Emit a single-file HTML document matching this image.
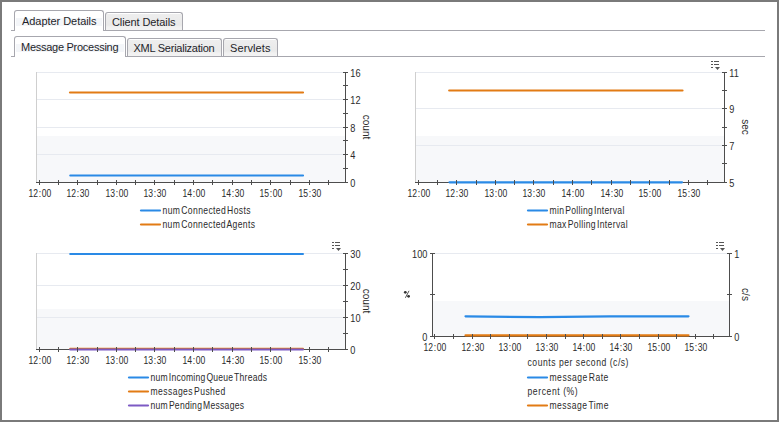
<!DOCTYPE html><html><head><meta charset="utf-8"><style>
html,body{margin:0;padding:0;}
body{width:779px;height:422px;position:relative;overflow:hidden;background:#fff;font-family:"Liberation Sans",sans-serif;}
.frame{position:absolute;left:0;top:0;width:779px;height:422px;box-sizing:border-box;border:2px solid #7a7a7a;}
.line{position:absolute;height:1px;background:#a7a7ae;}
.tab{position:absolute;box-sizing:border-box;border:1px solid #a7a7ae;border-bottom:none;border-radius:3px 3px 0 0;font-size:11px;color:#1f1f2a;white-space:nowrap;}
.tab.act{background:#fff;}
.tab.act .band{position:absolute;left:1px;right:1px;top:7px;height:8px;background:#f4f6f9;}
.tab.ina{background:linear-gradient(#ffffff 0,#ffffff 1px,#eeeeee 1px,#e9e9e9 12px,#f1f1f1 14px,#f3f3f3 100%);}
.tab span{position:absolute;}
svg{position:absolute;left:0;top:0;}
svg text{font-family:"Liberation Sans",sans-serif;}
</style></head><body>
<div class="frame"></div>
<div class="line" style="left:11px;top:30px;width:754px"></div>
<div class="line" style="left:11px;top:56px;width:754px"></div>
<div class="tab act" style="left:14px;top:10px;width:90px;height:21px"><div class="band"></div><span style="left:7px;top:4px;letter-spacing:-0.05px">Adapter Details</span></div>
<div class="tab ina" style="left:105px;top:12px;width:78px;height:18px"><span style="left:6px;top:3px;letter-spacing:-0.1px">Client Details</span></div>
<div class="tab act" style="left:14px;top:36px;width:112px;height:21px"><div class="band"></div><span style="left:6px;top:4px;letter-spacing:-0.27px">Message Processing</span></div>
<div class="tab ina" style="left:127px;top:38px;width:95px;height:18px"><span style="left:5.5px;top:3px;letter-spacing:-0.25px">XML Serialization</span></div>
<div class="tab ina" style="left:223px;top:38px;width:55px;height:18px"><span style="left:6px;top:3px;letter-spacing:0.1px">Servlets</span></div>
<svg width="779" height="422" viewBox="0 0 779 422" shape-rendering="auto">

<rect x="37" y="72" width="308" height="110" fill="#ffffff"/>
<rect x="37" y="136" width="308" height="46" fill="#f7f8fa"/>
<rect x="37" y="72" width="306" height="1" fill="#e7eaf0"/>
<rect x="37" y="99" width="306" height="1" fill="#e7eaf0"/>
<rect x="37" y="127" width="306" height="1" fill="#e7eaf0"/>
<rect x="37" y="154" width="306" height="1" fill="#e7eaf0"/>
<rect x="36" y="72" width="1" height="110" fill="#cfcfcf"/>
<rect x="36" y="182" width="312" height="1" fill="#4d4d4d"/>
<path d="M70 92.5 L303 92.5" fill="none" stroke="#e27b14" stroke-width="2.2" stroke-linecap="round" stroke-linejoin="round"/>
<path d="M70.3 175.5 L303 175.5" fill="none" stroke="#2a8ae6" stroke-width="2.2" stroke-linecap="round" stroke-linejoin="round"/>
<rect x="39" y="180" width="1" height="5" fill="#4d4d4d"/>
<text transform="translate(39.90 196.6) scale(0.86 1)" x="0" y="0" text-anchor="middle" style="font-size:10px" fill="#2b2b2b">12<tspan dx="0.7">:</tspan><tspan dx="0.7">00</tspan></text>
<rect x="58" y="180" width="1" height="5" fill="#4d4d4d"/>
<rect x="77" y="180" width="1" height="5" fill="#4d4d4d"/>
<text transform="translate(77.90 196.6) scale(0.86 1)" x="0" y="0" text-anchor="middle" style="font-size:10px" fill="#2b2b2b">12<tspan dx="0.7">:</tspan><tspan dx="0.7">30</tspan></text>
<rect x="97" y="180" width="1" height="5" fill="#4d4d4d"/>
<rect x="116" y="180" width="1" height="5" fill="#4d4d4d"/>
<text transform="translate(116.90 196.6) scale(0.86 1)" x="0" y="0" text-anchor="middle" style="font-size:10px" fill="#2b2b2b">13<tspan dx="0.7">:</tspan><tspan dx="0.7">00</tspan></text>
<rect x="135" y="180" width="1" height="5" fill="#4d4d4d"/>
<rect x="154" y="180" width="1" height="5" fill="#4d4d4d"/>
<text transform="translate(154.90 196.6) scale(0.86 1)" x="0" y="0" text-anchor="middle" style="font-size:10px" fill="#2b2b2b">13<tspan dx="0.7">:</tspan><tspan dx="0.7">30</tspan></text>
<rect x="174" y="180" width="1" height="5" fill="#4d4d4d"/>
<rect x="193" y="180" width="1" height="5" fill="#4d4d4d"/>
<text transform="translate(193.90 196.6) scale(0.86 1)" x="0" y="0" text-anchor="middle" style="font-size:10px" fill="#2b2b2b">14<tspan dx="0.7">:</tspan><tspan dx="0.7">00</tspan></text>
<rect x="212" y="180" width="1" height="5" fill="#4d4d4d"/>
<rect x="232" y="180" width="1" height="5" fill="#4d4d4d"/>
<text transform="translate(232.90 196.6) scale(0.86 1)" x="0" y="0" text-anchor="middle" style="font-size:10px" fill="#2b2b2b">14<tspan dx="0.7">:</tspan><tspan dx="0.7">30</tspan></text>
<rect x="251" y="180" width="1" height="5" fill="#4d4d4d"/>
<rect x="270" y="180" width="1" height="5" fill="#4d4d4d"/>
<text transform="translate(270.90 196.6) scale(0.86 1)" x="0" y="0" text-anchor="middle" style="font-size:10px" fill="#2b2b2b">15<tspan dx="0.7">:</tspan><tspan dx="0.7">00</tspan></text>
<rect x="290" y="180" width="1" height="5" fill="#4d4d4d"/>
<rect x="309" y="180" width="1" height="5" fill="#4d4d4d"/>
<text transform="translate(309.90 196.6) scale(0.86 1)" x="0" y="0" text-anchor="middle" style="font-size:10px" fill="#2b2b2b">15<tspan dx="0.7">:</tspan><tspan dx="0.7">30</tspan></text>
<rect x="328" y="180" width="1" height="5" fill="#4d4d4d"/>
<rect x="345" y="72" width="1" height="111" fill="#4d4d4d"/>
<rect x="343" y="72" width="5" height="1" fill="#4d4d4d"/>
<rect x="343" y="85" width="5" height="1" fill="#4d4d4d"/>
<rect x="343" y="99" width="5" height="1" fill="#4d4d4d"/>
<rect x="343" y="113" width="5" height="1" fill="#4d4d4d"/>
<rect x="343" y="127" width="5" height="1" fill="#4d4d4d"/>
<rect x="343" y="140" width="5" height="1" fill="#4d4d4d"/>
<rect x="343" y="154" width="5" height="1" fill="#4d4d4d"/>
<rect x="343" y="168" width="5" height="1" fill="#4d4d4d"/>
<rect x="343" y="182" width="5" height="1" fill="#4d4d4d"/>
<text transform="translate(350.3 76.50) scale(0.92 1)" style="font-size:10px" fill="#2b2b2b">16</text>
<text transform="translate(350.3 104.00) scale(0.92 1)" style="font-size:10px" fill="#2b2b2b">12</text>
<text transform="translate(350.3 131.50) scale(0.92 1)" style="font-size:10px" fill="#2b2b2b">8</text>
<text transform="translate(350.3 159.00) scale(0.92 1)" style="font-size:10px" fill="#2b2b2b">4</text>
<text transform="translate(350.3 186.50) scale(0.92 1)" style="font-size:10px" fill="#2b2b2b">0</text>
<text x="363.3" y="127.0" text-anchor="middle" transform="rotate(90 363.3 127.0)" style="font-size:10px" fill="#2b2b2b">count</text>
<path d="M141 210.5H160" stroke="#2a8ae6" stroke-width="2.2" stroke-linecap="round"/>
<text transform="translate(162.5 213.5) scale(0.86 1)" style="font-size:10px;word-spacing:-2px" fill="#2b2b2b" textLength="102.33" lengthAdjust="spacing">num Connected Hosts</text>
<path d="M141 224.5H160" stroke="#e27b14" stroke-width="2.2" stroke-linecap="round"/>
<text transform="translate(162.5 227.5) scale(0.86 1)" style="font-size:10px;word-spacing:-2px" fill="#2b2b2b" textLength="107.56" lengthAdjust="spacing">num Connected Agents</text>
<rect x="416" y="72" width="308" height="110" fill="#ffffff"/>
<rect x="416" y="136" width="308" height="46" fill="#f7f8fa"/>
<rect x="416" y="72" width="306" height="1" fill="#e7eaf0"/>
<rect x="416" y="108" width="306" height="1" fill="#e7eaf0"/>
<rect x="416" y="145" width="306" height="1" fill="#e7eaf0"/>
<rect x="415" y="72" width="1" height="110" fill="#cfcfcf"/>
<rect x="415" y="182" width="312" height="1" fill="#4d4d4d"/>
<path d="M449.2 90.5 L682.5 90.5" fill="none" stroke="#e27b14" stroke-width="2.2" stroke-linecap="round" stroke-linejoin="round"/>
<path d="M449.5 182.3 L682 182.3" fill="none" stroke="#2a8ae6" stroke-width="2.2" stroke-linecap="round" stroke-linejoin="round"/>
<rect x="418" y="180" width="1" height="5" fill="#4d4d4d"/>
<text transform="translate(418.90 196.6) scale(0.86 1)" x="0" y="0" text-anchor="middle" style="font-size:10px" fill="#2b2b2b">12<tspan dx="0.7">:</tspan><tspan dx="0.7">00</tspan></text>
<rect x="437" y="180" width="1" height="5" fill="#4d4d4d"/>
<rect x="456" y="180" width="1" height="5" fill="#4d4d4d"/>
<text transform="translate(456.90 196.6) scale(0.86 1)" x="0" y="0" text-anchor="middle" style="font-size:10px" fill="#2b2b2b">12<tspan dx="0.7">:</tspan><tspan dx="0.7">30</tspan></text>
<rect x="476" y="180" width="1" height="5" fill="#4d4d4d"/>
<rect x="495" y="180" width="1" height="5" fill="#4d4d4d"/>
<text transform="translate(495.90 196.6) scale(0.86 1)" x="0" y="0" text-anchor="middle" style="font-size:10px" fill="#2b2b2b">13<tspan dx="0.7">:</tspan><tspan dx="0.7">00</tspan></text>
<rect x="514" y="180" width="1" height="5" fill="#4d4d4d"/>
<rect x="533" y="180" width="1" height="5" fill="#4d4d4d"/>
<text transform="translate(533.90 196.6) scale(0.86 1)" x="0" y="0" text-anchor="middle" style="font-size:10px" fill="#2b2b2b">13<tspan dx="0.7">:</tspan><tspan dx="0.7">30</tspan></text>
<rect x="553" y="180" width="1" height="5" fill="#4d4d4d"/>
<rect x="572" y="180" width="1" height="5" fill="#4d4d4d"/>
<text transform="translate(572.90 196.6) scale(0.86 1)" x="0" y="0" text-anchor="middle" style="font-size:10px" fill="#2b2b2b">14<tspan dx="0.7">:</tspan><tspan dx="0.7">00</tspan></text>
<rect x="591" y="180" width="1" height="5" fill="#4d4d4d"/>
<rect x="611" y="180" width="1" height="5" fill="#4d4d4d"/>
<text transform="translate(611.90 196.6) scale(0.86 1)" x="0" y="0" text-anchor="middle" style="font-size:10px" fill="#2b2b2b">14<tspan dx="0.7">:</tspan><tspan dx="0.7">30</tspan></text>
<rect x="630" y="180" width="1" height="5" fill="#4d4d4d"/>
<rect x="649" y="180" width="1" height="5" fill="#4d4d4d"/>
<text transform="translate(649.90 196.6) scale(0.86 1)" x="0" y="0" text-anchor="middle" style="font-size:10px" fill="#2b2b2b">15<tspan dx="0.7">:</tspan><tspan dx="0.7">00</tspan></text>
<rect x="669" y="180" width="1" height="5" fill="#4d4d4d"/>
<rect x="688" y="180" width="1" height="5" fill="#4d4d4d"/>
<text transform="translate(688.90 196.6) scale(0.86 1)" x="0" y="0" text-anchor="middle" style="font-size:10px" fill="#2b2b2b">15<tspan dx="0.7">:</tspan><tspan dx="0.7">30</tspan></text>
<rect x="707" y="180" width="1" height="5" fill="#4d4d4d"/>
<rect x="724" y="72" width="1" height="111" fill="#4d4d4d"/>
<rect x="722" y="72" width="5" height="1" fill="#4d4d4d"/>
<rect x="722" y="90" width="5" height="1" fill="#4d4d4d"/>
<rect x="722" y="108" width="5" height="1" fill="#4d4d4d"/>
<rect x="722" y="127" width="5" height="1" fill="#4d4d4d"/>
<rect x="722" y="145" width="5" height="1" fill="#4d4d4d"/>
<rect x="722" y="163" width="5" height="1" fill="#4d4d4d"/>
<rect x="722" y="182" width="5" height="1" fill="#4d4d4d"/>
<text transform="translate(729.3 76.50) scale(0.92 1)" style="font-size:10px" fill="#2b2b2b">11</text>
<text transform="translate(729.3 113.17) scale(0.92 1)" style="font-size:10px" fill="#2b2b2b">9</text>
<text transform="translate(729.3 149.83) scale(0.92 1)" style="font-size:10px" fill="#2b2b2b">7</text>
<text transform="translate(729.3 186.50) scale(0.92 1)" style="font-size:10px" fill="#2b2b2b">5</text>
<text x="741.5" y="127.0" text-anchor="middle" transform="rotate(90 741.5 127.0)" style="font-size:10px" fill="#2b2b2b">sec</text>
<rect x="711" y="61" width="2" height="1" fill="#555"/>
<rect x="714" y="61" width="5" height="1" fill="#555"/>
<rect x="711" y="64" width="2" height="1" fill="#555"/>
<rect x="714" y="64" width="5" height="1" fill="#555"/>
<rect x="711" y="67" width="2" height="1" fill="#555"/>
<path d="M715 67h5l-2.5 3z" fill="#555"/>
<path d="M528 210.5H547" stroke="#2a8ae6" stroke-width="2.2" stroke-linecap="round"/>
<text transform="translate(549.5 213.5) scale(0.86 1)" style="font-size:10px;word-spacing:-2px" fill="#2b2b2b" textLength="86.98" lengthAdjust="spacing">min Polling Interval</text>
<path d="M528 224.5H547" stroke="#e27b14" stroke-width="2.2" stroke-linecap="round"/>
<text transform="translate(549.5 227.5) scale(0.86 1)" style="font-size:10px;word-spacing:-2px" fill="#2b2b2b" textLength="90.81" lengthAdjust="spacing">max Polling Interval</text>
<rect x="37" y="253" width="308" height="96" fill="#ffffff"/>
<rect x="37" y="309" width="308" height="40" fill="#f7f8fa"/>
<rect x="37" y="253" width="306" height="1" fill="#e7eaf0"/>
<rect x="37" y="285" width="306" height="1" fill="#e7eaf0"/>
<rect x="37" y="317" width="306" height="1" fill="#e7eaf0"/>
<rect x="36" y="253" width="1" height="96" fill="#cfcfcf"/>
<rect x="36" y="349" width="312" height="1" fill="#4d4d4d"/>
<path d="M70.2 253.9 L303 253.9" fill="none" stroke="#2a8ae6" stroke-width="2" stroke-linecap="round" stroke-linejoin="round"/>
<path d="M70.2 348.8 L303 348.8" fill="none" stroke="#e27b14" stroke-width="2" stroke-linecap="round" stroke-linejoin="round"/>
<path d="M70.2 349.5 L303 349.5" fill="none" stroke="#7d5ac4" stroke-width="2" stroke-linecap="round" stroke-linejoin="round"/>
<rect x="39" y="347" width="1" height="5" fill="#4d4d4d"/>
<text transform="translate(39.90 363.6) scale(0.86 1)" x="0" y="0" text-anchor="middle" style="font-size:10px" fill="#2b2b2b">12<tspan dx="0.7">:</tspan><tspan dx="0.7">00</tspan></text>
<rect x="58" y="347" width="1" height="5" fill="#4d4d4d"/>
<rect x="77" y="347" width="1" height="5" fill="#4d4d4d"/>
<text transform="translate(77.90 363.6) scale(0.86 1)" x="0" y="0" text-anchor="middle" style="font-size:10px" fill="#2b2b2b">12<tspan dx="0.7">:</tspan><tspan dx="0.7">30</tspan></text>
<rect x="97" y="347" width="1" height="5" fill="#4d4d4d"/>
<rect x="116" y="347" width="1" height="5" fill="#4d4d4d"/>
<text transform="translate(116.90 363.6) scale(0.86 1)" x="0" y="0" text-anchor="middle" style="font-size:10px" fill="#2b2b2b">13<tspan dx="0.7">:</tspan><tspan dx="0.7">00</tspan></text>
<rect x="135" y="347" width="1" height="5" fill="#4d4d4d"/>
<rect x="154" y="347" width="1" height="5" fill="#4d4d4d"/>
<text transform="translate(154.90 363.6) scale(0.86 1)" x="0" y="0" text-anchor="middle" style="font-size:10px" fill="#2b2b2b">13<tspan dx="0.7">:</tspan><tspan dx="0.7">30</tspan></text>
<rect x="174" y="347" width="1" height="5" fill="#4d4d4d"/>
<rect x="193" y="347" width="1" height="5" fill="#4d4d4d"/>
<text transform="translate(193.90 363.6) scale(0.86 1)" x="0" y="0" text-anchor="middle" style="font-size:10px" fill="#2b2b2b">14<tspan dx="0.7">:</tspan><tspan dx="0.7">00</tspan></text>
<rect x="212" y="347" width="1" height="5" fill="#4d4d4d"/>
<rect x="232" y="347" width="1" height="5" fill="#4d4d4d"/>
<text transform="translate(232.90 363.6) scale(0.86 1)" x="0" y="0" text-anchor="middle" style="font-size:10px" fill="#2b2b2b">14<tspan dx="0.7">:</tspan><tspan dx="0.7">30</tspan></text>
<rect x="251" y="347" width="1" height="5" fill="#4d4d4d"/>
<rect x="270" y="347" width="1" height="5" fill="#4d4d4d"/>
<text transform="translate(270.90 363.6) scale(0.86 1)" x="0" y="0" text-anchor="middle" style="font-size:10px" fill="#2b2b2b">15<tspan dx="0.7">:</tspan><tspan dx="0.7">00</tspan></text>
<rect x="290" y="347" width="1" height="5" fill="#4d4d4d"/>
<rect x="309" y="347" width="1" height="5" fill="#4d4d4d"/>
<text transform="translate(309.90 363.6) scale(0.86 1)" x="0" y="0" text-anchor="middle" style="font-size:10px" fill="#2b2b2b">15<tspan dx="0.7">:</tspan><tspan dx="0.7">30</tspan></text>
<rect x="328" y="347" width="1" height="5" fill="#4d4d4d"/>
<rect x="345" y="253" width="1" height="97" fill="#4d4d4d"/>
<rect x="343" y="253" width="5" height="1" fill="#4d4d4d"/>
<rect x="343" y="269" width="5" height="1" fill="#4d4d4d"/>
<rect x="343" y="285" width="5" height="1" fill="#4d4d4d"/>
<rect x="343" y="301" width="5" height="1" fill="#4d4d4d"/>
<rect x="343" y="317" width="5" height="1" fill="#4d4d4d"/>
<rect x="343" y="333" width="5" height="1" fill="#4d4d4d"/>
<rect x="343" y="349" width="5" height="1" fill="#4d4d4d"/>
<text transform="translate(350.3 257.50) scale(0.92 1)" style="font-size:10px" fill="#2b2b2b">30</text>
<text transform="translate(350.3 289.50) scale(0.92 1)" style="font-size:10px" fill="#2b2b2b">20</text>
<text transform="translate(350.3 321.50) scale(0.92 1)" style="font-size:10px" fill="#2b2b2b">10</text>
<text transform="translate(350.3 353.50) scale(0.92 1)" style="font-size:10px" fill="#2b2b2b">0</text>
<text x="363.3" y="301.0" text-anchor="middle" transform="rotate(90 363.3 301.0)" style="font-size:10px" fill="#2b2b2b">count</text>
<rect x="332" y="242" width="2" height="1" fill="#555"/>
<rect x="335" y="242" width="5" height="1" fill="#555"/>
<rect x="332" y="245" width="2" height="1" fill="#555"/>
<rect x="335" y="245" width="5" height="1" fill="#555"/>
<rect x="332" y="248" width="2" height="1" fill="#555"/>
<path d="M336 248h5l-2.5 3z" fill="#555"/>
<path d="M129 377.5H148" stroke="#2a8ae6" stroke-width="2.2" stroke-linecap="round"/>
<text transform="translate(150.5 380.5) scale(0.86 1)" style="font-size:10px;word-spacing:-2px" fill="#2b2b2b" textLength="135.47" lengthAdjust="spacing">num Incoming Queue Threads</text>
<path d="M129 391.5H148" stroke="#e27b14" stroke-width="2.2" stroke-linecap="round"/>
<text transform="translate(150.5 394.5) scale(0.86 1)" style="font-size:10px;word-spacing:-2px" fill="#2b2b2b" textLength="86.98" lengthAdjust="spacing">messages Pushed</text>
<path d="M129 405.5H148" stroke="#7d5ac4" stroke-width="2.2" stroke-linecap="round"/>
<text transform="translate(150.5 408.5) scale(0.86 1)" style="font-size:10px;word-spacing:-2px" fill="#2b2b2b" textLength="108.72" lengthAdjust="spacing">num Pending Messages</text>
<rect x="433" y="253" width="296" height="83" fill="#ffffff"/>
<rect x="433" y="301" width="296" height="35" fill="#f7f8fa"/>
<rect x="433" y="253" width="294" height="1" fill="#e7eaf0"/>
<rect x="432" y="253" width="1" height="83" fill="#cfcfcf"/>
<rect x="432" y="336" width="300" height="1" fill="#4d4d4d"/>
<path d="M465.5 316.3 L540 317.2 L610 316.3 L688.5 316.3" fill="none" stroke="#2a8ae6" stroke-width="2.2" stroke-linecap="round" stroke-linejoin="round"/>
<path d="M465.5 335.3 L688.5 335.3" fill="none" stroke="#e27b14" stroke-width="2.2" stroke-linecap="round" stroke-linejoin="round"/>
<rect x="434" y="334" width="1" height="5" fill="#4d4d4d"/>
<text transform="translate(434.90 350.6) scale(0.86 1)" x="0" y="0" text-anchor="middle" style="font-size:10px" fill="#2b2b2b">12<tspan dx="0.7">:</tspan><tspan dx="0.7">00</tspan></text>
<rect x="453" y="334" width="1" height="5" fill="#4d4d4d"/>
<rect x="472" y="334" width="1" height="5" fill="#4d4d4d"/>
<text transform="translate(472.90 350.6) scale(0.86 1)" x="0" y="0" text-anchor="middle" style="font-size:10px" fill="#2b2b2b">12<tspan dx="0.7">:</tspan><tspan dx="0.7">30</tspan></text>
<rect x="490" y="334" width="1" height="5" fill="#4d4d4d"/>
<rect x="509" y="334" width="1" height="5" fill="#4d4d4d"/>
<text transform="translate(509.90 350.6) scale(0.86 1)" x="0" y="0" text-anchor="middle" style="font-size:10px" fill="#2b2b2b">13<tspan dx="0.7">:</tspan><tspan dx="0.7">00</tspan></text>
<rect x="527" y="334" width="1" height="5" fill="#4d4d4d"/>
<rect x="546" y="334" width="1" height="5" fill="#4d4d4d"/>
<text transform="translate(546.90 350.6) scale(0.86 1)" x="0" y="0" text-anchor="middle" style="font-size:10px" fill="#2b2b2b">13<tspan dx="0.7">:</tspan><tspan dx="0.7">30</tspan></text>
<rect x="565" y="334" width="1" height="5" fill="#4d4d4d"/>
<rect x="583" y="334" width="1" height="5" fill="#4d4d4d"/>
<text transform="translate(583.90 350.6) scale(0.86 1)" x="0" y="0" text-anchor="middle" style="font-size:10px" fill="#2b2b2b">14<tspan dx="0.7">:</tspan><tspan dx="0.7">00</tspan></text>
<rect x="602" y="334" width="1" height="5" fill="#4d4d4d"/>
<rect x="620" y="334" width="1" height="5" fill="#4d4d4d"/>
<text transform="translate(620.90 350.6) scale(0.86 1)" x="0" y="0" text-anchor="middle" style="font-size:10px" fill="#2b2b2b">14<tspan dx="0.7">:</tspan><tspan dx="0.7">30</tspan></text>
<rect x="639" y="334" width="1" height="5" fill="#4d4d4d"/>
<rect x="658" y="334" width="1" height="5" fill="#4d4d4d"/>
<text transform="translate(658.90 350.6) scale(0.86 1)" x="0" y="0" text-anchor="middle" style="font-size:10px" fill="#2b2b2b">15<tspan dx="0.7">:</tspan><tspan dx="0.7">00</tspan></text>
<rect x="676" y="334" width="1" height="5" fill="#4d4d4d"/>
<rect x="695" y="334" width="1" height="5" fill="#4d4d4d"/>
<text transform="translate(695.90 350.6) scale(0.86 1)" x="0" y="0" text-anchor="middle" style="font-size:10px" fill="#2b2b2b">15<tspan dx="0.7">:</tspan><tspan dx="0.7">30</tspan></text>
<rect x="713" y="334" width="1" height="5" fill="#4d4d4d"/>
<rect x="432" y="253" width="1" height="84" fill="#4d4d4d"/>
<rect x="430" y="253" width="5" height="1" fill="#4d4d4d"/>
<rect x="430" y="294" width="5" height="1" fill="#4d4d4d"/>
<rect x="430" y="336" width="5" height="1" fill="#4d4d4d"/>
<text transform="translate(427.4 257.5) scale(0.92 1)" text-anchor="end" style="font-size:10px" fill="#2b2b2b">100</text>
<text transform="translate(427.4 340.5) scale(0.92 1)" text-anchor="end" style="font-size:10px" fill="#2b2b2b">0</text>
<circle cx="405.3" cy="292.3" r="1.4" fill="#333"/><circle cx="408.6" cy="296.3" r="1.4" fill="#333"/><path d="M409 290.8 L405.4 297.8" stroke="#555" stroke-width="1"/>
<rect x="729" y="253" width="1" height="84" fill="#4d4d4d"/>
<rect x="727" y="253" width="5" height="1" fill="#4d4d4d"/>
<rect x="727" y="294" width="5" height="1" fill="#4d4d4d"/>
<rect x="727" y="336" width="5" height="1" fill="#4d4d4d"/>
<text transform="translate(734.3 257.50) scale(0.92 1)" style="font-size:10px" fill="#2b2b2b">1</text>
<text transform="translate(734.3 340.50) scale(0.92 1)" style="font-size:10px" fill="#2b2b2b">0</text>
<text x="741.5" y="294.5" text-anchor="middle" transform="rotate(90 741.5 294.5)" style="font-size:10px" fill="#2b2b2b">c/s</text>
<rect x="716" y="242" width="2" height="1" fill="#555"/>
<rect x="719" y="242" width="5" height="1" fill="#555"/>
<rect x="716" y="245" width="2" height="1" fill="#555"/>
<rect x="719" y="245" width="5" height="1" fill="#555"/>
<rect x="716" y="248" width="2" height="1" fill="#555"/>
<path d="M720 248h5l-2.5 3z" fill="#555"/>
<text transform="translate(527.5 366) scale(0.86 1)" style="font-size:10px" fill="#2b2b2b" textLength="117.44" lengthAdjust="spacing">counts per second (c/s)</text>
<path d="M528 377.5H547" stroke="#2a8ae6" stroke-width="2.2" stroke-linecap="round"/>
<text transform="translate(549.5 380.5) scale(0.86 1)" style="font-size:10px;word-spacing:-2px" fill="#2b2b2b" textLength="68.49" lengthAdjust="spacing">message Rate</text>
<text transform="translate(527.5 394.5) scale(0.86 1)" style="font-size:10px" fill="#2b2b2b" textLength="58.37" lengthAdjust="spacing">percent (%)</text>
<path d="M528 405.5H547" stroke="#e27b14" stroke-width="2.2" stroke-linecap="round"/>
<text transform="translate(549.5 408.5) scale(0.86 1)" style="font-size:10px;word-spacing:-2px" fill="#2b2b2b" textLength="68.60" lengthAdjust="spacing">message Time</text>
</svg></body></html>
